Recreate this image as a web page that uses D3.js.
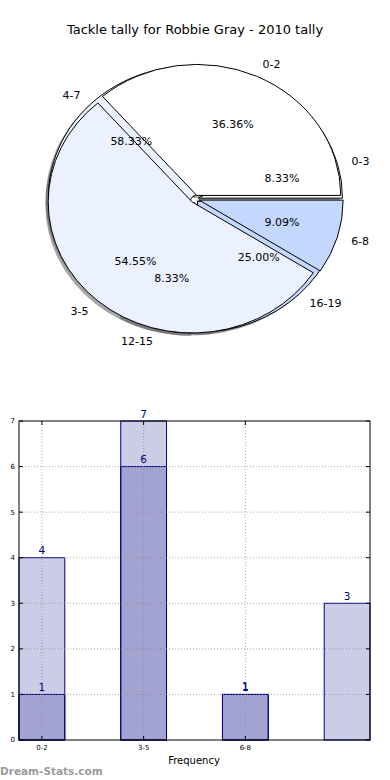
<!DOCTYPE html>
<html>
<head>
<meta charset="utf-8">
<script src="https://cdn.jsdelivr.net/npm/d3@7"></script>
<style>
  body { margin: 0; background: #fff; }
  svg { display: block; font-family: "DejaVu Sans", sans-serif; }
</style>
</head>
<body>
<script>
// pie data: the 2010 tally drawn on top, career tally underneath
const tallyCats = ["0-2", "3-5", "6-8"];
const tallyValues = [4, 6, 1];
const careerCats = ["0-3", "4-7", "12-15", "16-19"];
const careerValues = [1, 7, 1, 3];

// bar data
const barCats = ["0-2", "3-5", "6-8", ""];
const barSeriesA = [4, 6, 1, 0];
const barSeriesB = [1, 7, 1, 3];
const yTicks = [0, 1, 2, 3, 4, 5, 6, 7];

const W = 390, H = 780;
const svg = d3.select("body").append("svg")
  .attr("width", W)
  .attr("height", H);

svg.append("rect").attr("width", W).attr("height", H).attr("fill", "#fff");

svg.append("text")
  .attr("x", 195).attr("y", 34)
  .attr("text-anchor", "middle")
  .style("font-size", "13px")
  .text("Tackle tally for Robbie Gray - 2010 tally");

// ---- pies ----
const cx = 195, cy = 199, rx = 144, ry = 131;
const sy = ry / rx;
const colors = ["#ffffff", "#ebf1fe", "#c4d7fe"];
const careerColors = ["#ffffff", "#ebf1fe", "#ebf1fe", "#c4d7fe"];

// matplotlib style: start at 3 o'clock, go counterclockwise
const pie = d3.pie().sort(null)
  .startAngle(Math.PI / 2)
  .endAngle(Math.PI / 2 - 2 * Math.PI);
const arc = d3.arc().innerRadius(0).outerRadius(rx);

function slices(cats, values, explode, cols) {
  return pie(values).map((d, i) => {
    const a = (d.startAngle + d.endAngle) / 2;
    return Object.assign(d, {
      cat: cats[i],
      color: cols[i],
      ux: Math.sin(a), uy: -Math.cos(a),
      ex: explode
    });
  });
}

const career = slices(careerCats, careerValues, 0.025, careerColors);
const tally = slices(tallyCats, tallyValues, 0.03, colors);

const pieG = svg.append("g")
  .attr("transform", `translate(${cx},${cy}) scale(1,${sy})`);

// shadows go under every wedge
const shadowG = pieG.append("g");
[career, tally].forEach(set => {
  shadowG.selectAll(null).data(set).enter().append("path")
    .attr("d", arc)
    .attr("transform", d => `translate(${d.ux * d.ex * rx - 0.02 * rx},${d.uy * d.ex * rx + 0.02 * rx})`)
    .attr("fill", "#4d4d4d")
    .attr("opacity", 0.5);
});

[career, tally].forEach(set => {
  pieG.append("g").selectAll("path").data(set).enter().append("path")
    .attr("d", arc)
    .attr("transform", d => `translate(${d.ux * d.ex * rx},${d.uy * d.ex * rx})`)
    .attr("fill", d => d.color)
    .attr("stroke", "#000")
    .attr("stroke-width", 1)
    .attr("vector-effect", "non-scaling-stroke");
});

const textG = svg.append("g").style("font-size", "11px");
[career, tally].forEach(set => {
  const fmt = v => (v * 100).toFixed(2) + "%";
  const total = d3.sum(set, d => d.value);
  set.forEach(d => {
    const ox = cx + d.ux * d.ex * rx, oy = cy + d.uy * d.ex * ry;
    const lx = ox + 1.1 * rx * d.ux, ly = oy + 1.1 * ry * d.uy;
    textG.append("text")
      .attr("x", lx).attr("y", ly)
      .attr("dy", "0.35em")
      .attr("text-anchor", lx > cx ? "start" : "end")
      .text(d.cat);
    textG.append("text")
      .attr("x", ox + 0.6 * rx * d.ux).attr("y", oy + 0.6 * ry * d.uy)
      .attr("dy", "0.35em")
      .attr("text-anchor", "middle")
      .text(fmt(d.value / total));
  });
});

// ---- bars ----
const m = { left: 19, right: 370, top: 421, bottom: 740 };
const barW = 0.45;
const x = d3.scaleLinear().domain([0, barCats.length - 1 + barW]).range([m.left, m.right]);
const y = d3.scaleLinear().domain([0, 7]).range([m.bottom, m.top]);
const navy = "#000080";

const barG = svg.append("g");
[barSeriesA, barSeriesB].forEach(series => {
  barG.append("g").selectAll("rect")
    .data(series.map((v, i) => ({ v, i })).filter(d => d.v > 0))
    .enter().append("rect")
    .attr("x", d => x(d.i))
    .attr("y", d => y(d.v))
    .attr("width", d => x(d.i + barW) - x(d.i))
    .attr("height", d => y(0) - y(d.v))
    .attr("fill", navy)
    .attr("fill-opacity", 0.2)
    .attr("stroke", navy)
    .attr("stroke-width", 1);
});

// grid
const gridG = svg.append("g")
  .attr("stroke", "#888")
  .attr("stroke-opacity", 0.7)
  .attr("stroke-dasharray", "1,2");
gridG.selectAll(".gy").data(yTicks.slice(1, -1)).enter().append("line")
  .attr("x1", m.left).attr("x2", m.right)
  .attr("y1", d => y(d)).attr("y2", d => y(d));
gridG.selectAll(".gx").data(barCats.filter(c => c !== "")).enter().append("line")
  .attr("x1", (c, i) => x(i + barW / 2)).attr("x2", (c, i) => x(i + barW / 2))
  .attr("y1", m.top).attr("y2", m.bottom);

// frame + ticks
svg.append("rect")
  .attr("x", m.left).attr("y", m.top)
  .attr("width", m.right - m.left).attr("height", m.bottom - m.top)
  .attr("fill", "none").attr("stroke", "#000").attr("stroke-width", 1);

const tickG = svg.append("g").attr("stroke", "#000");
yTicks.forEach(t => {
  tickG.append("line").attr("x1", m.left).attr("x2", m.left + 4).attr("y1", y(t)).attr("y2", y(t));
  tickG.append("line").attr("x1", m.right).attr("x2", m.right - 4).attr("y1", y(t)).attr("y2", y(t));
});
barCats.forEach((c, i) => {
  if (c === "") return;
  const px = x(i + barW / 2);
  tickG.append("line").attr("x1", px).attr("x2", px).attr("y1", m.bottom).attr("y2", m.bottom - 4);
  tickG.append("line").attr("x1", px).attr("x2", px).attr("y1", m.top).attr("y2", m.top + 4);
});

svg.append("g").style("font-size", "7px")
  .selectAll("text").data(yTicks).enter().append("text")
  .attr("x", m.left - 4).attr("y", d => y(d))
  .attr("dy", "0.35em")
  .attr("text-anchor", "end")
  .text(d => d);

svg.append("g").style("font-size", "7px")
  .selectAll("text").data(barCats).enter().append("text")
  .attr("x", (c, i) => x(i + barW / 2)).attr("y", m.bottom + 10)
  .attr("text-anchor", "middle")
  .text(c => c);

// value labels
[barSeriesA, barSeriesB].forEach((series, k) => {
  svg.append("g").style("font-size", "10.5px").attr("fill", navy)
    .selectAll("text")
    .data(series.map((v, i) => ({ v, i })).filter(d => d.v > 0))
    .enter().append("text")
    .attr("x", d => x(d.i + barW / 2))
    .attr("y", d => y(d.v) - 4 + k)
    .attr("text-anchor", "middle")
    .text(d => d.v);
});

svg.append("text")
  .attr("x", 194).attr("y", 764)
  .attr("text-anchor", "middle")
  .style("font-size", "10px")
  .text("Frequency");

svg.append("text")
  .attr("x", 0).attr("y", 775)
  .style("font-size", "10.5px")
  .style("font-weight", "bold")
  .attr("fill", "#9a9a9a")
  .text("Dream-Stats.com");
</script>
</body>
</html>
